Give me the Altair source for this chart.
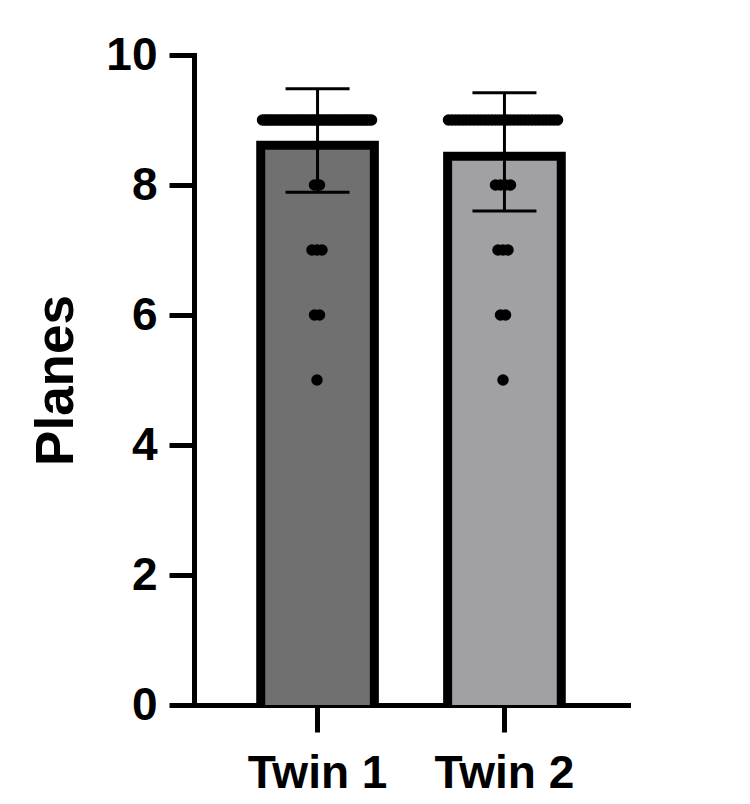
import altair as alt
import numpy as np
import pandas as pd

# ---- data ----
groups = ["Twin 1", "Twin 2"]
means = [8.68, 8.51]
err_low = [7.89, 7.60]
err_high = [9.48, 9.42]
fills = ["#707070", "#a1a1a5"]

levels = [9, 8, 7, 6, 5]
twin1_counts = [49, 2, 3, 2, 1]
twin2_counts = [31, 4, 3, 2, 1]

# ---- tables ----
summary = pd.DataFrame({"group": groups, "mean": means, "lo": err_low, "hi": err_high})

rows = []
for gi, (g, counts) in enumerate(zip(groups, [twin1_counts, twin2_counts])):
    for lv, k in zip(levels, counts):
        half = min(54.5, 2.5 * (k - 1))
        offs = np.linspace(-half, half, k) if k > 1 else [0.0]
        for o in offs:
            rows.append({"group": g, "value": lv, "pos": gi + float(o) / 186.0})
dots_df = pd.DataFrame(rows)

FONT = "Liberation Sans"
W, H = 434, 650

xscale = alt.Scale(domain=groups, paddingInner=0.392, paddingOuter=0.357)
yscale = alt.Scale(domain=[0, 10], nice=False, zero=True)

yaxis = alt.Axis(
    values=[0, 2, 4, 6, 8, 10], format="d", grid=False,
    tickSize=25, tickWidth=5, tickColor="black",
    domainWidth=5, domainColor="black", domainCap="square",
    labelFont=FONT, labelFontSize=46, labelFontWeight="bold", labelColor="black",
    labelPadding=12,
    title="Planes", titleFont=FONT, titleFontSize=53, titleFontWeight="bold",
    titleColor="black", titleX=-122, titleY=325, titleBaseline="alphabetic",
    titleAlign="center", titleAngle=270,
)
xaxis = alt.Axis(
    title=None, labelAngle=0, grid=False,
    tickSize=27, tickWidth=5, tickColor="black",
    domainWidth=5, domainColor="black", domainCap="square",
    labelFont=FONT, labelFontSize=46, labelFontWeight="bold", labelColor="black",
    labelPadding=19,
)

base = alt.Chart(summary)
xenc = alt.X("group:N", scale=xscale, axis=xaxis, sort=groups)

bars = base.mark_bar(stroke="black", strokeWidth=9, clip=True, yOffset=4.5, opacity=1).encode(
    x=xenc,
    y=alt.Y("mean:Q", scale=yscale, axis=yaxis),
    color=alt.Color("group:N", scale=alt.Scale(domain=groups, range=fills), legend=None),
)

rules = base.mark_rule(color="black", strokeWidth=3, opacity=1).encode(
    x=xenc,
    y=alt.Y("lo:Q", scale=yscale, axis=yaxis),
    y2="hi:Q",
)

caps_hi = base.mark_tick(color="black", size=64, thickness=3, orient="horizontal", opacity=1).encode(
    x=xenc,
    y=alt.Y("hi:Q", scale=yscale, axis=yaxis),
)
caps_lo = base.mark_tick(color="black", size=64, thickness=3, orient="horizontal", opacity=1).encode(
    x=xenc,
    y=alt.Y("lo:Q", scale=yscale, axis=yaxis),
)

core = alt.layer(bars, rules, caps_hi, caps_lo)

dots = alt.Chart(dots_df).mark_circle(color="black", size=133, opacity=1).encode(
    x=alt.X("pos:Q", scale=alt.Scale(domain=[-0.6613, 1.6720], nice=False, zero=False), axis=None),
    y=alt.Y("value:Q", scale=yscale, axis=yaxis),
)

chart = alt.layer(core, dots).resolve_scale(x="independent").properties(
    width=W, height=H, background="white",
    autosize=alt.AutoSizeParams(type="none"),
    padding={"left": 186, "top": 47, "right": 100, "bottom": 95},
).configure_view(strokeWidth=0, stroke="transparent")

chart.save("out.html", embed_options={"renderer": "svg", "actions": False})
